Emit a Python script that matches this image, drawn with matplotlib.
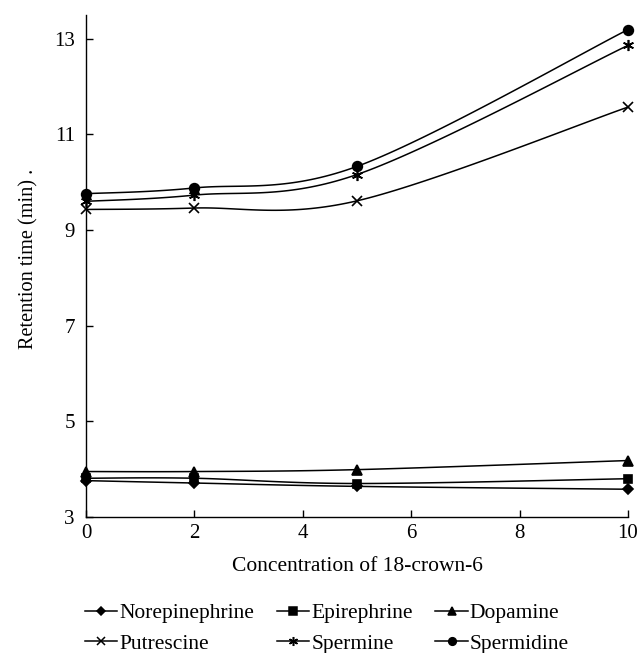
import numpy as np
import matplotlib
matplotlib.use("Agg")
import matplotlib.pyplot as plt
from matplotlib.lines import Line2D

plt.rcParams['font.family'] = ['Liberation Serif', 'DejaVu Serif']

conc = [0, 2, 5, 10]
norepinephrine = [3.76, 3.71, 3.64, 3.58]
epinephrine = [3.81, 3.81, 3.70, 3.80]
dopamine = [3.95, 3.95, 3.99, 4.18]
putrescine = [9.43, 9.46, 9.61, 11.57]
spermine = [9.60, 9.73, 10.16, 12.86]
spermidine = [9.76, 9.88, 10.33, 13.19]

names = ["Norepinephrine", "Epirephrine", "Dopamine",
         "Putrescine", "Spermine", "Spermidine"]
series = [norepinephrine, epinephrine, dopamine, putrescine, spermine, spermidine]
markers = ["D", "s", "^", "x", (6, 2, 0), "o"]
msizes = [5.5, 6, 6.5, 7, 8, 7]
leg_sizes = [4.5, 5.5, 5.5, 5.5, 6.5, 5.5]

xticks = [0, 2, 4, 6, 8, 10]
yticks = [3, 5, 7, 9, 11, 13]


def smooth(x, y, n=40):
    # Bezier smoothing through the data points (Excel-style smoothed line)
    P = np.column_stack([x, y]).astype(float)
    m = len(P)
    out = []
    for i in range(m - 1):
        p0 = P[i - 1] if i > 0 else P[i]
        p1 = P[i]
        p2 = P[i + 1]
        p3 = P[i + 2] if i + 2 < m else P[i + 1]
        c1 = p1 + (p2 - p0) / 6.0
        c2 = p2 - (p3 - p1) / 6.0
        t = np.linspace(0, 1, n)[:, None]
        seg = ((1 - t) ** 3) * p1 + 3 * ((1 - t) ** 2) * t * c1 + 3 * (1 - t) * t ** 2 * c2 + t ** 3 * p2
        out.append(seg if i == 0 else seg[1:])
    s = np.vstack(out)
    return s[:, 0], s[:, 1]


fig = plt.figure(figsize=(6.42, 6.53), dpi=100)
ax = fig.add_axes([0.134, 0.2083, 0.844, 0.769])

handles = []
for name, ys, mk, ms, ls in zip(names, series, markers, msizes, leg_sizes):
    sx, sy = smooth(conc, ys)
    ax.plot(sx, sy, color="black", lw=1.1, zorder=2)
    ax.plot(conc, ys, linestyle="none", marker=mk, markersize=ms, color="black",
            markeredgewidth=1.2, clip_on=False, zorder=3)
    handles.append(Line2D([], [], color="black", lw=1.1, marker=mk,
                          markersize=ls, markeredgewidth=1.1))

ax.set_xlim(0, 10)
ax.set_ylim(3, 13.5)
ax.set_xticks(xticks)
ax.set_yticks(yticks)
ax.spines['top'].set_visible(False)
ax.spines['right'].set_visible(False)
for s in ['left', 'bottom']:
    ax.spines[s].set_linewidth(1.0)
ax.tick_params(direction='in', length=5, width=1.0, labelsize=15)
ax.tick_params(axis='x', pad=5)
ax.tick_params(axis='y', pad=8)

ax.set_xlabel("Concentration of 18-crown-6", fontsize=15.5, labelpad=10)
ax.set_ylabel("Retention time (min) .", fontsize=14.6, labelpad=11)
ax.yaxis.label.set_y(0.514)

# legend rows are filled column by column, so reorder to read row-wise
order = [0, 3, 1, 4, 2, 5]
fig.legend([handles[i] for i in order], [names[i] for i in order],
           loc="upper left", bbox_to_anchor=(85 / 642, 1 - 603 / 653),
           borderaxespad=0, borderpad=0,
           ncol=3, frameon=False, fontsize=15.5, handlelength=1.5,
           handletextpad=0.1, columnspacing=1.05, labelspacing=0.5)

fig.savefig("out.png", dpi=100)
